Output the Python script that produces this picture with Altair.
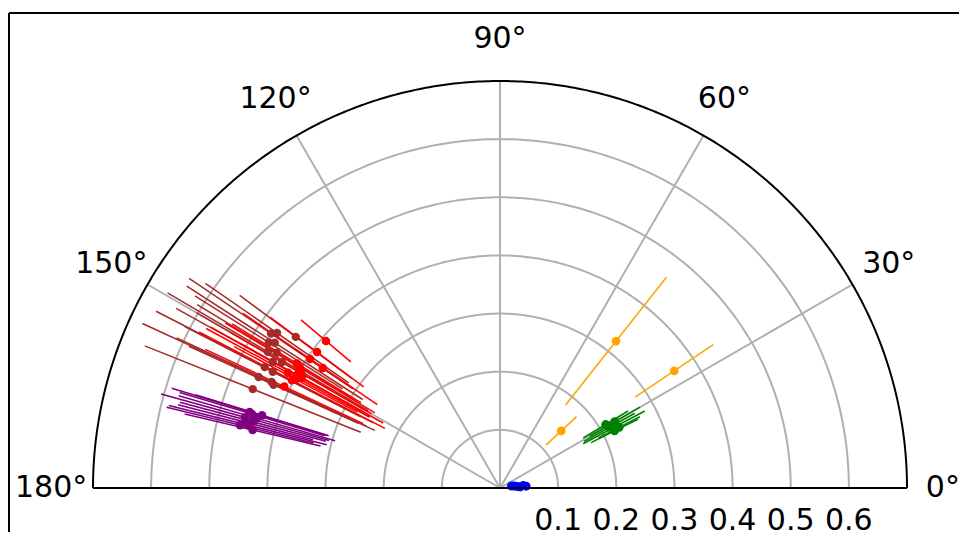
import altair as alt
import pandas as pd
import numpy as np

# ---- data: (angle in degrees, radius, radial error) per group ----
orange_theta = [51.7, 33.9, 43.0]
orange_r = [0.322, 0.361, 0.144]
orange_err = [0.140, 0.081, 0.036]

green_theta = [29.0, 28.0, 30.0, 27.0, 31.0, 26.5]
green_r = [0.215, 0.222, 0.228, 0.230, 0.212, 0.220]
green_err = [0.050, 0.060, 0.050, 0.040, 0.045, 0.045]

blue_theta = [8.0, 5.0, 3.0, 6.0, 4.0, 10.0]
blue_r = [0.025, 0.030, 0.035, 0.040, 0.045, 0.020]
blue_err = [0.004, 0.004, 0.004, 0.004, 0.004, 0.004]

brown_theta = [145.2, 146.0, 143.5, 147.2, 149.6, 148.8, 150.0, 151.0, 152.8, 152.9, 155.3, 155.1, 158.2, 155.5, 147.8]
brown_r = [0.467, 0.475, 0.437, 0.461, 0.463, 0.449, 0.433, 0.447, 0.455, 0.439, 0.457, 0.433, 0.458, 0.428, 0.470]
brown_err = [0.15, 0.17, 0.12, 0.18, 0.20, 0.16, 0.17, 0.19, 0.21, 0.17, 0.22, 0.18, 0.20, 0.16, 0.15]

red_theta = [139.8, 143.4, 145.8, 145.9, 149.0, 150.9, 150.9, 152.6, 154.8, 148.5, 151.5, 150.0, 152.0]
red_r = [0.392, 0.392, 0.395, 0.368, 0.401, 0.400, 0.390, 0.403, 0.410, 0.410, 0.415, 0.395, 0.398]
red_err = [0.056, 0.10, 0.14, 0.06, 0.15, 0.17, 0.12, 0.18, 0.15, 0.13, 0.16, 0.14, 0.12]

purple_theta = [163.1, 163.4, 163.0, 166.4, 166.0, 166.8, 164.5, 165.0, 164.0, 165.5]
purple_r = [0.450, 0.445, 0.428, 0.460, 0.447, 0.437, 0.455, 0.440, 0.435, 0.452]
purple_err = [0.14, 0.13, 0.12, 0.13, 0.14, 0.12, 0.15, 0.13, 0.14, 0.12]

groups = ["brown", "red", "purple", "orange", "green", "blue"]
group_data = {
    "orange": (orange_theta, orange_r, orange_err),
    "green": (green_theta, green_r, green_err),
    "blue": (blue_theta, blue_r, blue_err),
    "brown": (brown_theta, brown_r, brown_err),
    "red": (red_theta, red_r, red_err),
    "purple": (purple_theta, purple_r, purple_err),
}

ring_values = [0.1, 0.2, 0.3, 0.4, 0.5, 0.6]
ring_labels = ["0.1", "0.2", "0.3", "0.4", "0.5", "0.6"]
spoke_angles = [30, 60, 90, 120, 150]
angle_ticks = [0, 30, 60, 90, 120, 150, 180]
angle_labels = ["0°", "30°", "60°", "90°", "120°", "150°", "180°"]
r_max = 0.7

rows = []
for order, g in enumerate(groups):
    th, rr, ee = group_data[g]
    for t, r, e in zip(th, rr, ee):
        rows.append({"group": g, "order": order, "theta": t, "r": r, "err": e})
df = pd.DataFrame(rows)

W, H = 814, 407
xs = alt.Scale(domain=[-r_max, r_max], nice=False, zero=False)
ys = alt.Scale(domain=[0, r_max], nice=False, zero=False)
color = alt.Color("group:N", scale=alt.Scale(domain=groups, range=["#a52a2a", "#ff0000", "#800080", "#ffa500", "#008000", "#0000ff"]), legend=None)
swidth = alt.StrokeWidth("group:N", scale=alt.Scale(domain=groups, range=[1.5, 1.6, 2.4, 1.4, 2.0, 1.5]), legend=None)

GRID = "#b0b0b0"
FS = 30

# grid rings (structure)
ring_rows = []
for rv in ring_values:
    for a in np.arange(0, 181, 1.0):
        ring_rows.append({"ring": rv, "a": a})
rings = alt.Chart(pd.DataFrame(ring_rows)).transform_calculate(
    x="datum.ring*cos(datum.a*PI/180)", y="datum.ring*sin(datum.a*PI/180)"
).mark_line(color=GRID, strokeWidth=2).encode(
    x=alt.X("x:Q", scale=xs, axis=None), y=alt.Y("y:Q", scale=ys, axis=None),
    detail="ring:N", order="a:Q")

outer = alt.Chart(pd.DataFrame({"a": np.arange(0, 180.5, 0.5), "ring": r_max})).transform_calculate(
    x="datum.ring*cos(datum.a*PI/180)", y="datum.ring*sin(datum.a*PI/180)"
).mark_line(color="black", strokeWidth=2).encode(
    x=alt.X("x:Q", scale=xs, axis=None), y=alt.Y("y:Q", scale=ys, axis=None), order="a:Q")

spokes = alt.Chart(pd.DataFrame({"a": spoke_angles})).transform_calculate(
    x2="0.7*cos(datum.a*PI/180)", y2="0.7*sin(datum.a*PI/180)", x0="0", y0="0"
).mark_rule(color=GRID, strokeWidth=2).encode(
    x=alt.X("x0:Q", scale=xs, axis=None), y=alt.Y("y0:Q", scale=ys, axis=None),
    x2="x2:Q", y2="y2:Q")

base_line = alt.Chart(pd.DataFrame({"x0": [-r_max], "x1": [r_max], "y0": [0.0]})).mark_rule(
    color="black", strokeWidth=2).encode(
    x=alt.X("x0:Q", scale=xs, axis=None), x2="x1:Q", y=alt.Y("y0:Q", scale=ys, axis=None))

# error bars and points
err = alt.Chart(df).transform_calculate(
    xa="(datum.r-datum.err)*cos(datum.theta*PI/180)",
    ya="(datum.r-datum.err)*sin(datum.theta*PI/180)",
    xb="(datum.r+datum.err)*cos(datum.theta*PI/180)",
    yb="(datum.r+datum.err)*sin(datum.theta*PI/180)",
).mark_rule().encode(
    x=alt.X("xa:Q", scale=xs, axis=None), y=alt.Y("ya:Q", scale=ys, axis=None),
    x2="xb:Q", y2="yb:Q", color=color, strokeWidth=swidth, order="order:Q")

pts = alt.Chart(df).transform_calculate(
    x="datum.r*cos(datum.theta*PI/180)", y="datum.r*sin(datum.theta*PI/180)"
).mark_circle(opacity=1).encode(
    x=alt.X("x:Q", scale=xs, axis=None), y=alt.Y("y:Q", scale=ys, axis=None),
    color=color,
    size=alt.Size("group:N", scale=alt.Scale(domain=groups, range=[70, 80, 80, 50, 75, 70]), legend=None),
    order="order:Q")

# angle labels
ang_df = pd.DataFrame({"a": angle_ticks, "label": angle_labels})
ang_base = alt.Chart(ang_df).transform_calculate(
    x="0.772*cos(datum.a*PI/180)", y="0.772*sin(datum.a*PI/180)"
)
ang_text = ang_base.transform_filter("datum.a > 0").mark_text(
    fontSize=FS, font="DejaVu Sans", align="center", baseline="middle", color="black").encode(
    x=alt.X("x:Q", scale=xs, axis=None), y=alt.Y("y:Q", scale=ys, axis=None), text="label:N")
ang_text0 = ang_base.transform_filter("datum.a == 0").mark_text(
    fontSize=FS, font="DejaVu Sans", align="center", baseline="middle", color="black", dx=-6).encode(
    x=alt.X("x:Q", scale=xs, axis=None), y=alt.Y("y:Q", scale=ys, axis=None), text="label:N")

rad_df = pd.DataFrame({"x": ring_values, "label": ring_labels, "y": [0.0] * len(ring_values)})
rad_text = alt.Chart(rad_df).mark_text(fontSize=FS, font="DejaVu Sans", align="center",
                                       baseline="alphabetic", dy=42, color="black").encode(
    x=alt.X("x:Q", scale=xs, axis=None), y=alt.Y("y:Q", scale=ys, axis=None), text="label:N")

# outer figure frame
frame_df = pd.DataFrame({"k": [0]})
frame_left = alt.Chart(frame_df).mark_rule(color="black", strokeWidth=2).encode(
    x=alt.value(-84), y=alt.value(-68), y2=alt.value(520))
frame_top = alt.Chart(frame_df).mark_rule(color="black", strokeWidth=2).encode(
    x=alt.value(-84), x2=alt.value(950), y=alt.value(-68))

chart = alt.layer(
    rings, spokes, err, pts, outer, base_line, ang_text, ang_text0, rad_text, frame_left, frame_top
).properties(
    width=W, height=H,
    autosize=alt.AutoSizeParams(type="none"),
    padding={"left": 85, "top": 73, "right": 52, "bottom": 44},
).configure_view(stroke=None)

chart.save("out.html", embed_options={"renderer": "svg", "actions": False})
